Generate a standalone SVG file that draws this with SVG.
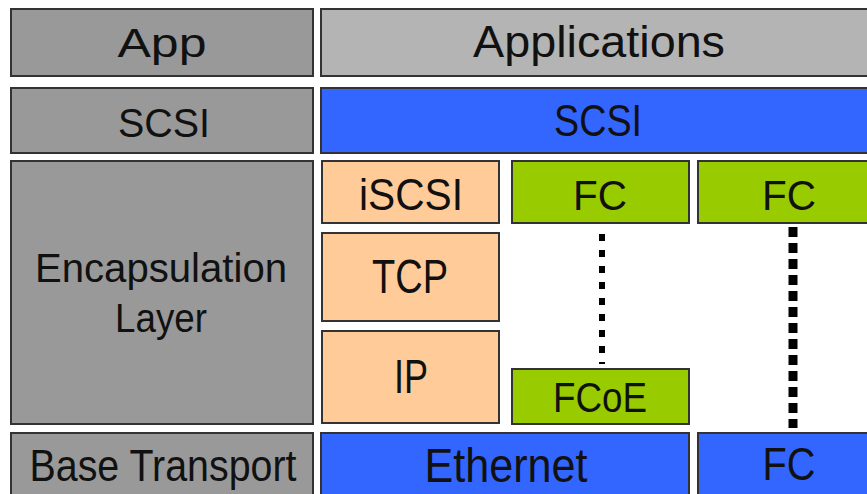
<svg xmlns="http://www.w3.org/2000/svg" width="867" height="494" viewBox="0 0 867 494" font-size="40">
<style>
rect{stroke:#333;stroke-width:2}
.g{fill:#999}
.lg{fill:#b4b4b4}
.b{fill:#3366ff}
.p{fill:#ffcc99}
.gr{fill:#99cc00}
text{font-family:"Liberation Sans","DejaVu Sans",sans-serif;fill:#111;text-anchor:middle}
.dot{stroke:#000;fill:none}
</style>
<rect width="867" height="494" fill="#fff" style="stroke:none"/>
<g id="app"><rect class="g" x="11" y="9" width="302" height="67"/><text x="162" y="57" textLength="89" lengthAdjust="spacingAndGlyphs">App</text></g>
<g id="applications"><rect class="lg" x="321" y="9" width="560" height="67"/><text x="599" y="57" font-size="45" textLength="252" lengthAdjust="spacingAndGlyphs">Applications</text></g>
<g id="scsi-label"><rect class="g" x="11" y="88" width="302" height="65"/><text x="164" y="137" textLength="92" lengthAdjust="spacingAndGlyphs">SCSI</text></g>
<g id="scsi"><rect class="b" x="321" y="88" width="560" height="65"/><text x="598" y="136" font-size="45" textLength="88" lengthAdjust="spacingAndGlyphs">SCSI</text></g>
<g id="encap"><rect class="g" x="11" y="161" width="302" height="263"/><text x="161" y="282" textLength="252" lengthAdjust="spacingAndGlyphs">Encapsulation</text><text x="161" y="332" textLength="92" lengthAdjust="spacingAndGlyphs">Layer</text></g>
<g id="iscsi"><rect class="p" x="322" y="161" width="177" height="62"/><text x="411" y="210" font-size="44" textLength="104" lengthAdjust="spacingAndGlyphs">iSCSI</text></g>
<g id="tcp"><rect class="p" x="322" y="233" width="177" height="88"/><text x="410" y="293" font-size="49" textLength="76" lengthAdjust="spacingAndGlyphs">TCP</text></g>
<g id="ip"><rect class="p" x="322" y="331" width="177" height="92"/><text x="411" y="393" font-size="48" textLength="34" lengthAdjust="spacingAndGlyphs">IP</text></g>
<g id="fc1"><rect class="gr" x="512" y="161" width="177" height="62"/><text x="600" y="210" font-size="43" textLength="54" lengthAdjust="spacingAndGlyphs">FC</text></g>
<g id="fc2"><rect class="gr" x="698" y="161" width="183" height="62"/><text x="789" y="210" font-size="43" textLength="54" lengthAdjust="spacingAndGlyphs">FC</text></g>
<g id="fcoe"><rect class="gr" x="512" y="369" width="177" height="55"/><text x="600" y="412" font-size="42" textLength="94" lengthAdjust="spacingAndGlyphs">FCoE</text></g>
<g id="base"><rect class="g" x="11" y="433" width="302" height="70"/><text x="163" y="481" font-size="44" textLength="267" lengthAdjust="spacingAndGlyphs">Base Transport</text></g>
<g id="ethernet"><rect class="b" x="321" y="433" width="368" height="70"/><text x="506" y="482" font-size="48" textLength="163" lengthAdjust="spacingAndGlyphs">Ethernet</text></g>
<g id="fc3"><rect class="b" x="698" y="433" width="183" height="70"/><text x="789" y="480" font-size="46" textLength="53" lengthAdjust="spacingAndGlyphs">FC</text></g>
<g id="connectors">
<line class="dot" x1="602" y1="234" x2="602" y2="364" stroke-width="6" stroke-dasharray="7 9"/>
<line class="dot" x1="793" y1="227" x2="793" y2="428" stroke-width="9" stroke-dasharray="10 6"/>
</g>
</svg>
